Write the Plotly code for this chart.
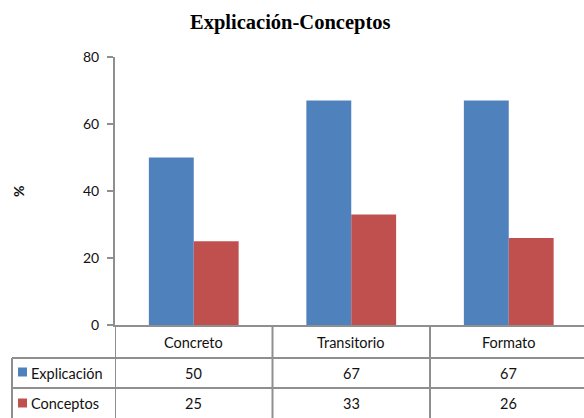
import plotly.graph_objects as go

categories = ["Concreto", "Transitorio", "Formato"]
series_names = ["Explicación", "Conceptos"]
explicacion = [50, 67, 67]
conceptos = [25, 33, 26]
y_ticks = [0, 20, 40, 60, 80]
colors = ["#4F81BD", "#C0504D"]

W, H = 584, 418
L, R, T, B = 115, 0, 57, 93
pw, ph = W - L - R, H - T - B

def px_x(px):
    return (px - L) / pw

def px_y(py):
    return (H - B - py) / ph

fig = go.Figure()
for name, vals, col in zip(series_names, [explicacion, conceptos], colors):
    fig.add_trace(go.Bar(x=categories, y=vals, name=name, marker_color=col,
                         marker_line_width=0, showlegend=False))

grid = "#8f8f8f"
tick_font = dict(family="Lato, Open Sans, sans-serif", size=14, color="#111")
table_font = dict(family="Lato, Open Sans, sans-serif", size=14.5, color="#111")

fig.update_layout(
    width=W, height=H,
    margin=dict(l=L, r=R, t=T, b=B),
    paper_bgcolor="white", plot_bgcolor="white",
    barmode="group", bargap=0.43, bargroupgap=0,
    title=dict(text="<b>Explicación-Conceptos</b>", x=0.497, xanchor="center",
               y=1 - 22 / H, yanchor="middle",
               font=dict(family="Liberation Serif, DejaVu Serif, serif", size=20.5, color="#000")),
    xaxis=dict(range=[-0.5, -0.5 + pw / 157.5], showticklabels=False, ticks="",
               showline=True, linecolor=grid, linewidth=2, showgrid=False, zeroline=False),
    yaxis=dict(range=[0, 80], tickvals=y_ticks, ticks="outside", ticklen=6, tickcolor=grid,
               tickwidth=1.5,
               showline=True, linecolor=grid, linewidth=2, showgrid=False, zeroline=False,
               tickfont=tick_font, ticklabelstandoff=5),
)

shapes = []
# Table lines
for py in [358, 388]:
    shapes.append(dict(type="line", xref="paper", yref="paper", x0=px_x(12), x1=px_x(586),
                       y0=px_y(py), y1=px_y(py), line=dict(color=grid, width=2)))
shapes.append(dict(type="line", xref="paper", yref="paper", x0=px_x(12), x1=px_x(12),
                   y0=px_y(358), y1=px_y(420), line=dict(color=grid, width=2)))
for i in range(len(categories)):
    xb = i - 0.5
    shapes.append(dict(type="line", xref="x", yref="paper", x0=xb, x1=xb,
                       y0=px_y(325), y1=px_y(420), line=dict(color=grid, width=2)))
# legend keys
for py, col in zip([372, 403], colors):
    shapes.append(dict(type="rect", xref="paper", yref="paper", x0=px_x(18), x1=px_x(27),
                       y0=px_y(py + 4.5), y1=px_y(py - 4.5), fillcolor=col, line=dict(width=0)))

annotations = []
for c in categories:
    annotations.append(dict(x=c, y=px_y(342), xref="x", yref="paper", text=c, showarrow=False,
                            font=table_font, xanchor="center", yanchor="middle"))
for name, vals, py in zip(series_names, [explicacion, conceptos], [373, 403]):
    annotations.append(dict(x=px_x(29), y=px_y(py), xref="paper", yref="paper", text=name,
                            showarrow=False, font=table_font, xanchor="left", yanchor="middle"))
    for c, v in zip(categories, vals):
        annotations.append(dict(x=c, y=px_y(py), xref="x", yref="paper", text=str(v),
                                showarrow=False, font=table_font, xanchor="center", yanchor="middle"))
annotations.append(dict(x=px_x(18), y=px_y(192), xref="paper", yref="paper", text="<b>%</b>",
                        textangle=-90, showarrow=False, font=tick_font,
                        xanchor="center", yanchor="middle"))

fig.update_layout(shapes=shapes, annotations=annotations)
fig.write_html("out.html")
